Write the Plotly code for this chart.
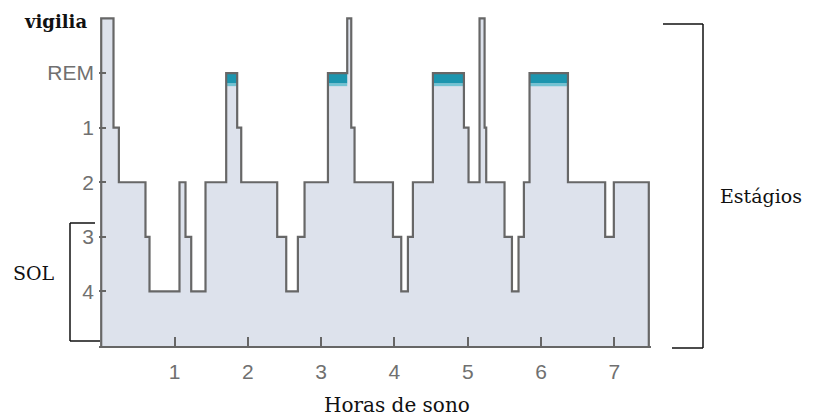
import plotly.graph_objects as go

# ---- data (hours of sleep, stage level) ----
# stage levels: 6 = vigília, 5 = REM, 4 = estágio 1, 3 = estágio 2, 2 = estágio 3, 1 = estágio 4
seg_start = [0.00, 0.168, 0.241, 0.604, 0.659, 1.068, 1.150, 1.228, 1.423, 1.705,
             1.855, 1.910, 2.401, 2.524, 2.683, 2.774, 3.093, 3.356, 3.411, 3.456,
             3.980, 4.093, 4.184, 4.252, 4.525, 4.948, 5.011, 5.161, 5.230, 5.252,
             5.502, 5.603, 5.693, 5.766, 5.843, 6.367, 6.875, 6.993]
seg_stage = [6, 4, 3, 2, 1, 3, 2, 1, 3, 5,
             4, 3, 2, 1, 2, 3, 5, 6, 4, 3,
             2, 1, 2, 3, 5, 4, 3, 6, 4, 3,
             2, 1, 2, 3, 5, 3, 2, 3]
end_time = 7.47

stage_ticks = [5, 4, 3, 2, 1]
stage_labels = ["REM", "1", "2", "3", "4"]
hour_ticks = [1, 2, 3, 4, 5, 6, 7]

REM_LEVEL = 5
REM_BAND = 0.24

W, H = 814, 417
ML, MR, MT, MB = 99, 163, 13, 71
PW, PH = W - ML - MR, H - MT - MB

def px(x):
    return (x - ML) / PW

def py(y):
    return (H - MB - y) / PH

xs = [seg_start[0]] + seg_start + [end_time, end_time]
ys = [0] + seg_stage + [seg_stage[-1], 0]

fig = go.Figure()

# filled hypnogram
fig.add_trace(go.Scatter(x=xs, y=ys, mode="lines", line=dict(shape="hv", width=0),
                         fill="tozeroy", fillcolor="#dde2ec", hoverinfo="skip",
                         showlegend=False))

# REM bands
ends = seg_start[1:] + [end_time]
for s, e, st in zip(seg_start, ends, seg_stage):
    if st == REM_LEVEL:
        fig.add_trace(go.Scatter(x=[s, e, e, s, s],
                                 y=[REM_LEVEL, REM_LEVEL, REM_LEVEL - REM_BAND * 0.8,
                                    REM_LEVEL - REM_BAND * 0.8, REM_LEVEL],
                                 mode="lines", line=dict(width=0), fill="toself",
                                 fillcolor="#1c95ae", hoverinfo="skip", showlegend=False))
        fig.add_trace(go.Scatter(x=[s, e, e, s, s],
                                 y=[REM_LEVEL - REM_BAND * 0.8, REM_LEVEL - REM_BAND * 0.8,
                                    REM_LEVEL - REM_BAND, REM_LEVEL - REM_BAND,
                                    REM_LEVEL - REM_BAND * 0.8],
                                 mode="lines", line=dict(width=0), fill="toself",
                                 fillcolor="#72c3d3", hoverinfo="skip", showlegend=False))

# outline
fig.add_trace(go.Scatter(x=xs, y=ys, mode="lines",
                         line=dict(shape="hv", width=2.2, color="#676767"),
                         hoverinfo="skip", showlegend=False))

tickfont = dict(family="Liberation Sans, Arial, sans-serif", size=21, color="#707070")
serif = "DejaVu Serif, serif"

fig.update_xaxes(range=[-0.03, 7.5], tickvals=hour_ticks, ticks="inside", ticklen=9,
                 tickwidth=2, tickcolor="#666", showline=True, linecolor="#666",
                 linewidth=2, showgrid=False, zeroline=False, tickfont=tickfont,
                 ticklabelstandoff=6)
fig.update_yaxes(range=[0, 6.1], tickvals=stage_ticks, ticktext=stage_labels,
                 ticks="inside", ticklen=7, tickwidth=2, tickcolor="#666",
                 showline=False, showgrid=False, zeroline=False, tickfont=tickfont,
                 ticklabelstandoff=4)

ann = [
    dict(text="<b>vigilia</b>", x=px(55), y=py(21), font=dict(family=serif, size=18, color="#111")),
    dict(text="SOL", x=px(34), y=py(273), font=dict(family=serif, size=19, color="#111")),
    dict(text="Estágios", x=px(761), y=py(196), font=dict(family=serif, size=19, color="#111")),
    dict(text="Horas de sono", x=px(397), y=py(405), font=dict(family=serif, size=20, color="#111")),
]
for a in ann:
    a.update(xref="paper", yref="paper", showarrow=False, xanchor="center", yanchor="middle")

shapes = []
def seg(x0, y0, x1, y1):
    shapes.append(dict(type="line", xref="paper", yref="paper",
                       x0=px(x0), y0=py(y0), x1=px(x1), y1=py(y1),
                       line=dict(color="#111", width=1.5)))

# SOL bracket
seg(70, 223, 95, 223)
seg(70, 223, 70, 341)
seg(70, 341, 100, 341)
# Estágios bracket
seg(663, 24, 703, 24)
seg(703, 24, 703, 348)
seg(672, 348, 703, 348)

fig.update_layout(width=W, height=H, margin=dict(l=ML, r=MR, t=MT, b=MB),
                  plot_bgcolor="white", paper_bgcolor="white",
                  annotations=ann, shapes=shapes)

fig.write_html("out.html", config={"displayModeBar": False},
               post_script="document.body.style.margin='0';document.body.style.overflow='hidden';")
